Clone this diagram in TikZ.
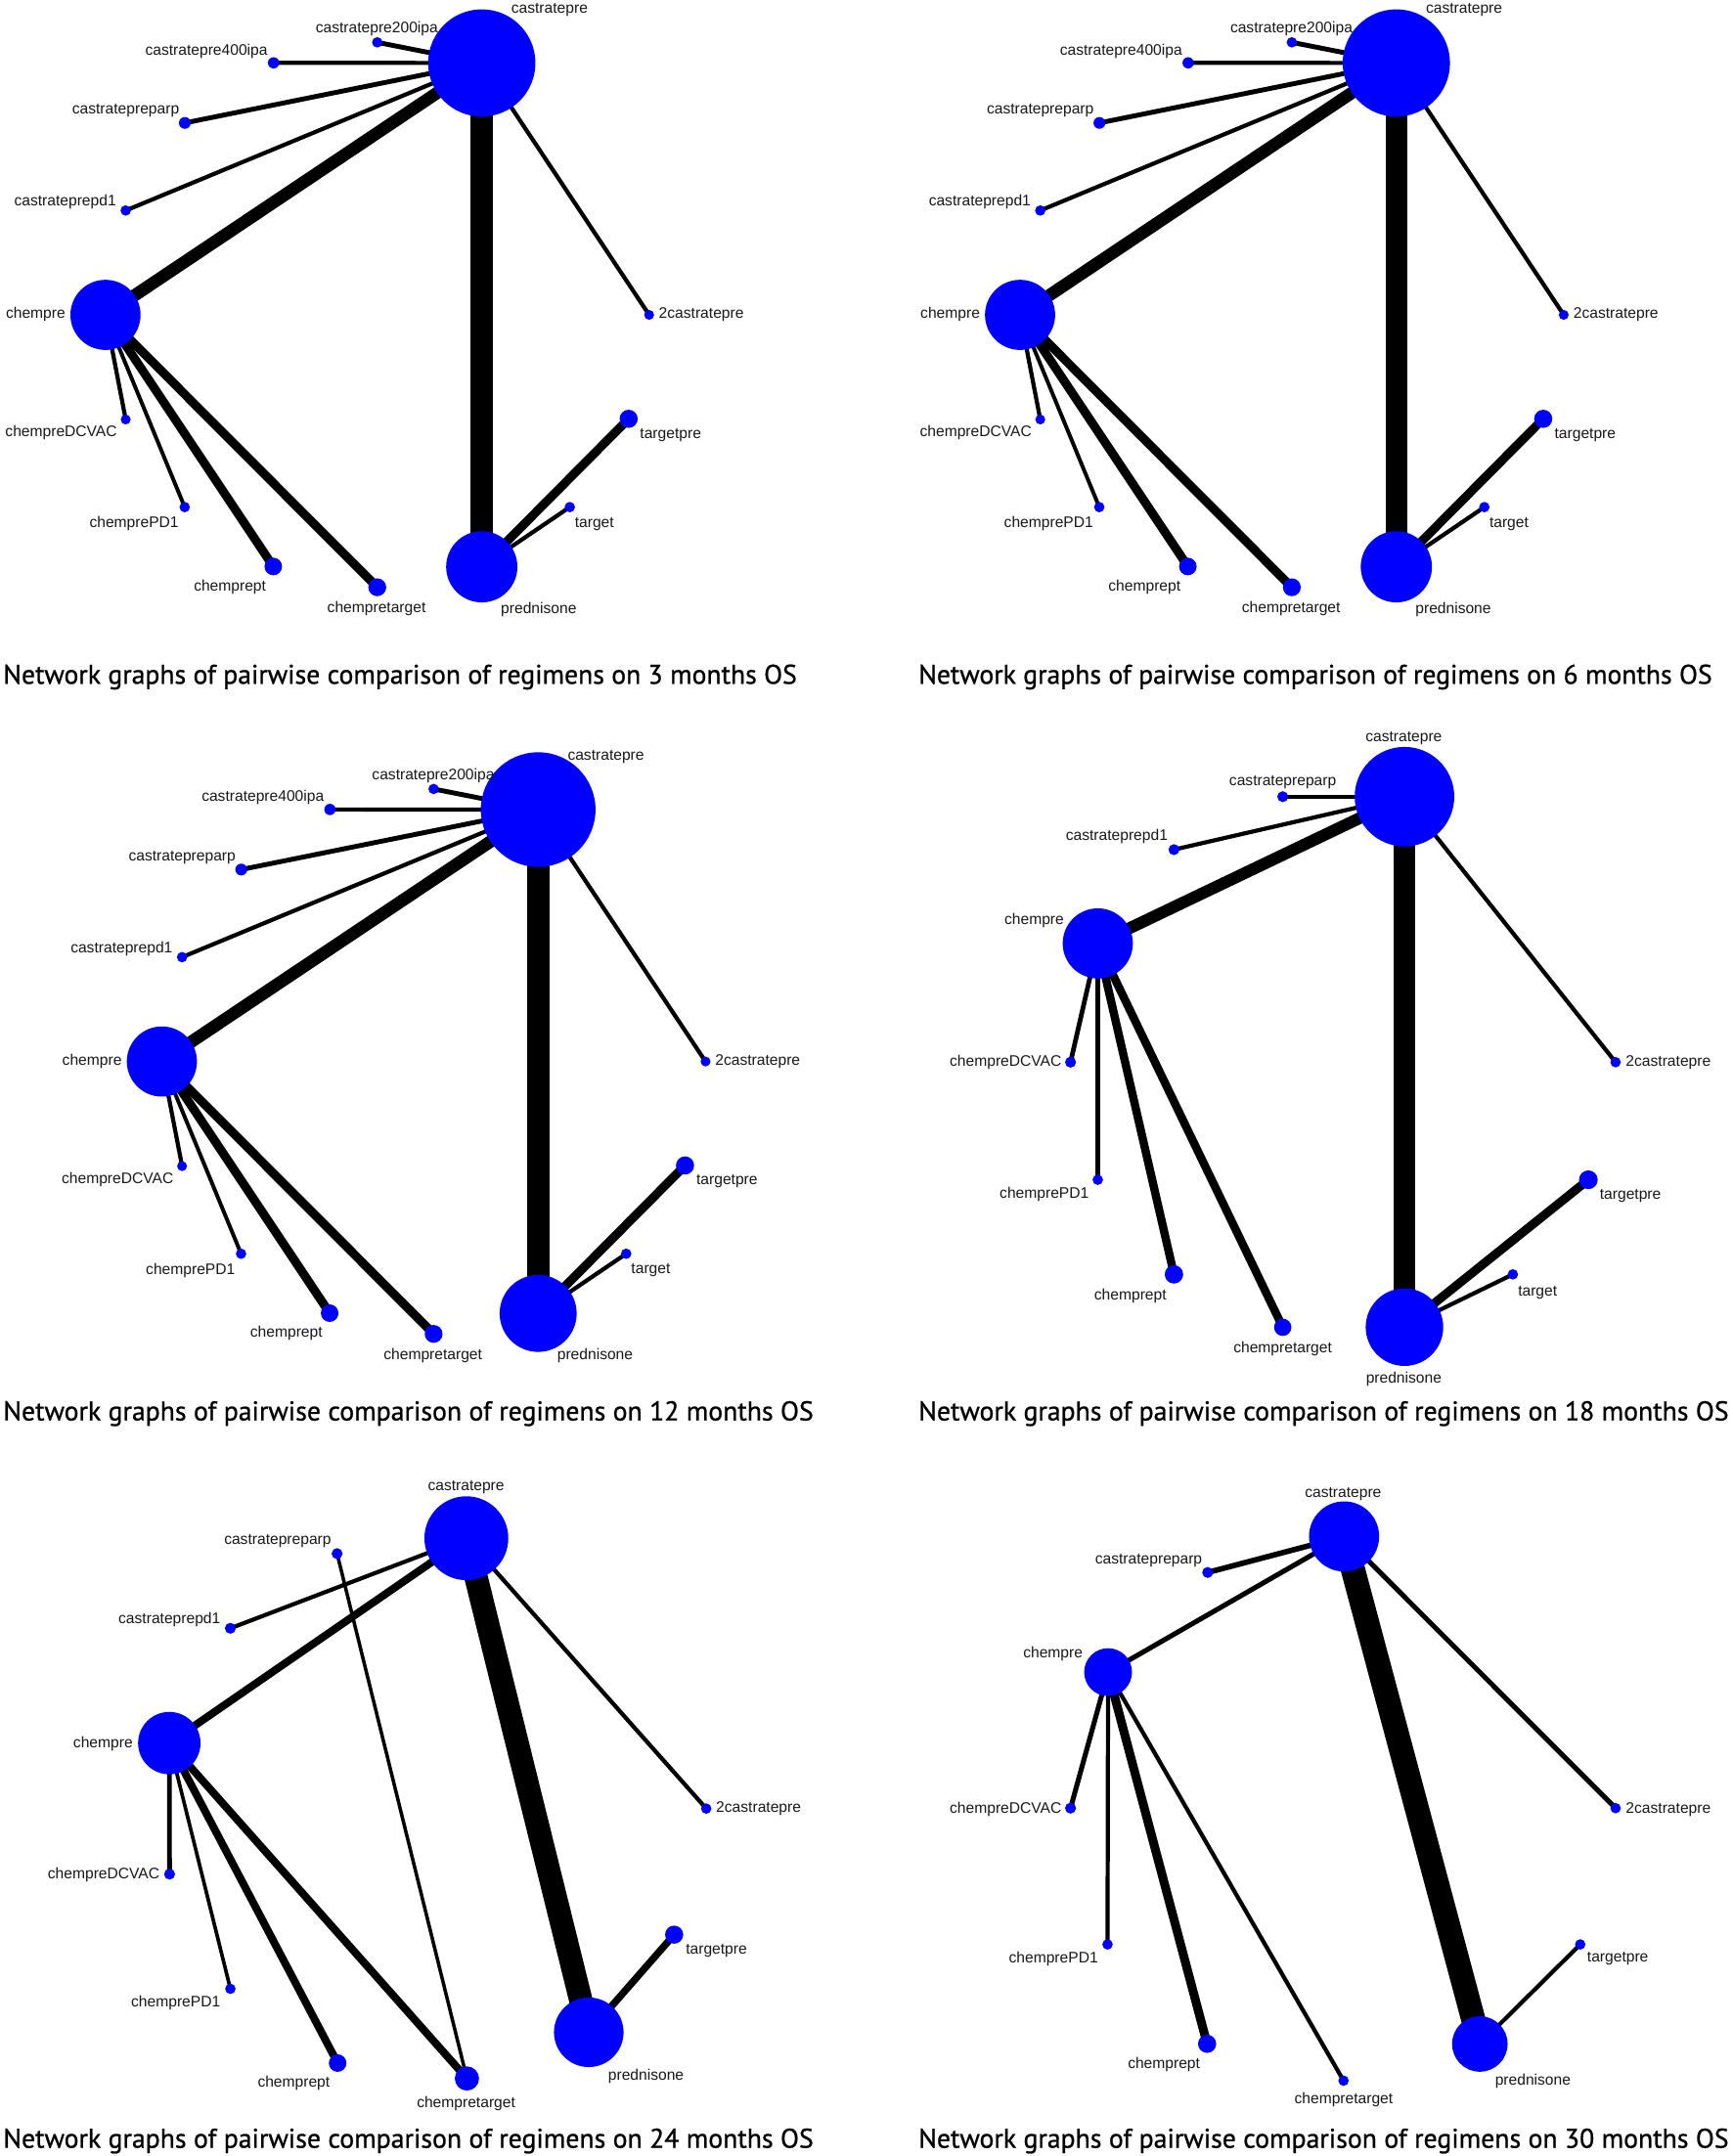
\documentclass[tikz,border=0pt]{standalone}
\usepackage{fontspec}
\usepackage{graphicx}
\newfontfamily\lblfont{Liberation Sans}
\newfontfamily\ttlfont[FakeBold=0.8]{PT Sans}
\definecolor{nodeblue}{RGB}{0,0,255}
\pgfdeclarelayer{bg}
\pgfdeclarelayer{paper}
\pgfsetlayers{paper,bg,main}
\tikzset{
  vtx/.style={circle, fill=nodeblue, draw=none, inner sep=0pt, minimum size=#1},
  lbl/.style={font=\lblfont\fontsize{5.55pt}{6pt}\selectfont, inner sep=0pt, text=black!90},
  ttl/.style={font=\ttlfont, inner sep=0pt, anchor=base west, text=black},
  lnk/.style={line width=#1, draw=black},
}
% full graph used for the 3, 6 and 12 months panels
\newcommand\fullgraph[3]{%
  \node[vtx=#2] (#1cas) at (350.3,45.8) {};
  \node[vtx=3.8pt] (#1c200) at (274.3,30.8) {};
  \node[vtx=4.1pt] (#1c400) at (198.9,45.7) {};
  \node[vtx=4.3pt] (#1carp) at (134.4,89.4) {};
  \node[vtx=3.8pt] (#1cpd1) at (91.4,153.1) {};
  \node[vtx=25.5pt] (#1chem) at (76.7,229) {};
  \node[vtx=3.6pt] (#1dcvac) at (91.4,305.1) {};
  \node[vtx=3.8pt] (#1pd1) at (134.3,368.8) {};
  \node[vtx=6.4pt] (#1cpt) at (198.7,412) {};
  \node[vtx=6.5pt] (#1ctgt) at (274.3,427.1) {};
  \node[vtx=#3] (#1pred) at (350.3,412.2) {};
  \node[vtx=6.6pt] (#1tpre) at (457.1,304.6) {};
  \node[vtx=3.8pt] (#1tgt) at (414.3,368.8) {};
  \node[vtx=3.6pt] (#1c2) at (472,229) {};
  \node[lbl, anchor=west] (#1Lcas) at (371.4,7.1) {castratepre};
  \node[lbl] (#1Lc200) at (274,21.3) {castratepre200ipa};
  \node[lbl] (#1Lc400) at (150.1,37.2) {castratepre400ipa};
  \node[lbl] (#1Lcarp) at (91.4,80.6) {castratepreparp};
  \node[lbl] (#1Lcpd1) at (47.4,147) {castrateprepd1};
  \node[lbl] (#1Lchem) at (25.9,228.7) {chempre};
  \node[lbl] (#1Ldcvac) at (44.5,314.8) {chempreDCVAC};
  \node[lbl] (#1Lpd1) at (97.5,381.1) {chemprePD1};
  \node[lbl] (#1Lcpt) at (167.2,426.7) {chemprept};
  \node[lbl] (#1Lctgt) at (273.8,442.8) {chempretarget};
  \node[lbl] (#1Lpred) at (391.7,443.2) {prednisone};
  \node[lbl, anchor=west] (#1Ltpre) at (465,316.4) {targetpre};
  \node[lbl] (#1Ltgt) at (432.2,381.1) {target};
  \node[lbl, anchor=west] (#1Lc2) at (478.7,229) {2castratepre};
  \begin{pgfonlayer}{bg}
    \draw[lnk=1.75pt] (#1cas.center) -- (#1c200.center);
    \draw[lnk=1.5pt] (#1cas.center) -- (#1c400.center);
    \draw[lnk=1.75pt] (#1cas.center) -- (#1carp.center);
    \draw[lnk=1.5pt] (#1cas.center) -- (#1cpd1.center);
    \draw[lnk=4.5pt] (#1cas.center) -- (#1chem.center);
    \draw[lnk=8pt] (#1cas.center) -- (#1pred.center);
    \draw[lnk=1.5pt] (#1cas.center) -- (#1c2.center);
    \draw[lnk=1.5pt] (#1chem.center) -- (#1dcvac.center);
    \draw[lnk=1.4pt] (#1chem.center) -- (#1pd1.center);
    \draw[lnk=3.2pt] (#1chem.center) -- (#1cpt.center);
    \draw[lnk=3.2pt] (#1chem.center) -- (#1ctgt.center);
    \draw[lnk=3.2pt] (#1pred.center) -- (#1tpre.center);
    \draw[lnk=1.5pt] (#1pred.center) -- (#1tgt.center);
  \end{pgfonlayer}
}
\begin{document}
\begin{tikzpicture}[x=0.5pt, y=-0.5pt]
\begin{pgfonlayer}{paper}
\fill[white] (0,0) rectangle (1260,1568);
\end{pgfonlayer}
\useasboundingbox (0,0) rectangle (1260,1568);

% ---------- 3 months ----------
\begin{scope}
  \fullgraph{a}{39pt}{25.9pt}
\end{scope}
\node[ttl] (t1) at (2,497.3) {\resizebox{288.5pt}{!}{Network graphs of pairwise comparison of regimens on 3 months OS}};

% ---------- 6 months ----------
\begin{scope}[shift={(665,0)}]
  \fullgraph{b}{39pt}{25.9pt}
\end{scope}
\node[ttl] (t2) at (667.5,497.3) {\resizebox{288.5pt}{!}{Network graphs of pairwise comparison of regimens on 6 months OS}};

% ---------- 12 months ----------
\begin{scope}[shift={(41,543)}]
  \fullgraph{c}{41.7pt}{28pt}
\end{scope}
\node[ttl] (t3) at (2,1033) {\resizebox{294.5pt}{!}{Network graphs of pairwise comparison of regimens on 12 months OS}};

% ---------- 18 months ----------
\node[vtx=36.2pt] (dcas) at (1021.2,579.4) {};
\node[vtx=4pt] (dcarp) at (932.7,579.4) {};
\node[vtx=4pt] (dcpd1) at (853.6,617.9) {};
\node[vtx=25.5pt] (dchem) at (798.2,686.1) {};
\node[vtx=4pt] (ddcvac) at (778.4,772.5) {};
\node[vtx=3.8pt] (dpd1) at (798.2,858) {};
\node[vtx=6.7pt] (dcpt) at (853.6,926.8) {};
\node[vtx=6.3pt] (dctgt) at (932.7,965.3) {};
\node[vtx=28.2pt] (dpred) at (1021.2,965.2) {};
\node[vtx=3.8pt] (dc2) at (1174.7,772.5) {};
\node[vtx=6.8pt] (dtpre) at (1154.9,858) {};
\node[vtx=3.8pt] (dtgt) at (1100,926.8) {};
\node[lbl] (dLcas) at (1020.7,537.2) {castratepre};
\node[lbl] (dLcarp) at (932.7,569.1) {castratepreparp};
\node[lbl] (dLcpd1) at (812,608.5) {castrateprepd1};
\node[lbl] (dLchem) at (752,669.2) {chempre};
\node[lbl] (dLdcvac) at (731.2,772.5) {chempreDCVAC};
\node[lbl] (dLpd1) at (759.3,868.3) {chemprePD1};
\node[lbl] (dLcpt) at (821.9,942.5) {chemprept};
\node[lbl] (dLctgt) at (932.7,981) {chempretarget};
\node[lbl] (dLpred) at (1020.7,1002.9) {prednisone};
\node[lbl, anchor=west] (dLc2) at (1181.8,772.5) {2castratepre};
\node[lbl] (dLtpre) at (1185.5,869.5) {targetpre};
\node[lbl] (dLtgt) at (1118,940) {target};
\begin{pgfonlayer}{bg}
  \draw[lnk=1.5pt] (dcas.center) -- (dcarp.center);
  \draw[lnk=1.5pt] (dcas.center) -- (dcpd1.center);
  \draw[lnk=4.3pt] (dcas.center) -- (dchem.center);
  \draw[lnk=8pt] (dcas.center) -- (dpred.center);
  \draw[lnk=1.5pt] (dcas.center) -- (dc2.center);
  \draw[lnk=1.7pt] (dchem.center) -- (ddcvac.center);
  \draw[lnk=1.5pt] (dchem.center) -- (dpd1.center);
  \draw[lnk=3pt] (dchem.center) -- (dcpt.center);
  \draw[lnk=3pt] (dchem.center) -- (dctgt.center);
  \draw[lnk=3.2pt] (dpred.center) -- (dtpre.center);
  \draw[lnk=1.5pt] (dpred.center) -- (dtgt.center);
\end{pgfonlayer}
\node[ttl] (t4) at (667.5,1033) {\resizebox{294.5pt}{!}{Network graphs of pairwise comparison of regimens on 18 months OS}};

% ---------- 24 months ----------
\node[vtx=30.5pt] (ecas) at (339.1,1118.7) {};
\node[vtx=4pt] (ecarp) at (245.1,1129.9) {};
\node[vtx=4pt] (ecpd1) at (167.5,1184.2) {};
\node[vtx=22.7pt] (echem) at (123.1,1267.7) {};
\node[vtx=4pt] (edcvac) at (123.3,1363) {};
\node[vtx=3.8pt] (epd1) at (167.5,1446.4) {};
\node[vtx=6.4pt] (ecpt) at (245.5,1500.4) {};
\node[vtx=8.8pt] (ectgt) at (339.5,1511.6) {};
\node[vtx=25.3pt] (epred) at (428.1,1478) {};
\node[vtx=3.8pt] (ec2) at (513.5,1315.3) {};
\node[vtx=6.6pt] (etpre) at (490.2,1407) {};
\node[lbl] (eLcas) at (338.9,1081.6) {castratepre};
\node[lbl] (eLcarp) at (201.9,1121) {castratepreparp};
\node[lbl] (eLcpd1) at (123.2,1177.9) {castrateprepd1};
\node[lbl] (eLchem) at (74.9,1268) {chempre};
\node[lbl, anchor=west] (eLc2) at (520.3,1315.3) {2castratepre};
\node[lbl] (eLdcvac) at (75.4,1363.3) {chempreDCVAC};
\node[lbl] (eLpd1) at (127.8,1456.6) {chemprePD1};
\node[lbl] (eLcpt) at (213.6,1515.1) {chemprept};
\node[lbl] (eLctgt) at (338.9,1530.2) {chempretarget};
\node[lbl] (eLpred) at (469.7,1509.7) {prednisone};
\node[lbl] (eLtpre) at (520.9,1418.9) {targetpre};
\begin{pgfonlayer}{bg}
  \draw[lnk=1.5pt] (ecas.center) -- (ecpd1.center);
  \draw[lnk=2.8pt] (ecas.center) -- (echem.center);
  \draw[lnk=8.5pt] (ecas.center) -- (epred.center);
  \draw[lnk=1.5pt] (ecas.center) -- (ec2.center);
  \draw[lnk=1.25pt] (ecarp.center) -- (ectgt.center);
  \draw[lnk=1.7pt] (echem.center) -- (edcvac.center);
  \draw[lnk=1.3pt] (echem.center) -- (epd1.center);
  \draw[lnk=2.8pt] (echem.center) -- (ecpt.center);
  \draw[lnk=2.8pt] (echem.center) -- (ectgt.center);
  \draw[lnk=2.6pt] (epred.center) -- (etpre.center);
\end{pgfonlayer}
\node[ttl] (t5) at (2,1562) {\resizebox{294.5pt}{!}{Network graphs of pairwise comparison of regimens on 24 months OS}};

% ---------- 30 months ----------
\node[vtx=25.5pt] (fcas) at (977.3,1117.4) {};
\node[vtx=4pt] (fcarp) at (878.1,1143.6) {};
\node[vtx=17.4pt] (fchem) at (805.7,1216.1) {};
\node[vtx=4pt] (fdcvac) at (778.4,1315) {};
\node[vtx=3.8pt] (fpd1) at (805.3,1414.1) {};
\node[vtx=6.6pt] (fcpt) at (877.7,1486.4) {};
\node[vtx=3.8pt] (fctgt) at (976.9,1513.2) {};
\node[vtx=20.2pt] (fpred) at (1076,1486.5) {};
\node[vtx=3.8pt] (fc2) at (1174.7,1315) {};
\node[vtx=3.8pt] (ftpre) at (1149,1414.1) {};
\node[lbl] (fLcas) at (976.6,1086.4) {castratepre};
\node[lbl] (fLcarp) at (835.2,1134.7) {castratepreparp};
\node[lbl] (fLchem) at (765.6,1203.1) {chempre};
\node[lbl, anchor=west] (fLc2) at (1181.8,1316) {2castratepre};
\node[lbl] (fLdcvac) at (731.2,1316) {chempreDCVAC};
\node[lbl] (fLpd1) at (766,1424.7) {chemprePD1};
\node[lbl] (fLcpt) at (846.3,1501.4) {chemprept};
\node[lbl] (fLctgt) at (977,1527) {chempretarget};
\node[lbl] (fLpred) at (1114.6,1513.2) {prednisone};
\node[lbl] (fLtpre) at (1176.3,1424.7) {targetpre};
\begin{pgfonlayer}{bg}
  \draw[lnk=2pt] (fcas.center) -- (fcarp.center);
  \draw[lnk=1.8pt] (fcas.center) -- (fchem.center);
  \draw[lnk=8.8pt] (fcas.center) -- (fpred.center);
  \draw[lnk=1.8pt] (fcas.center) -- (fc2.center);
  \draw[lnk=1.8pt] (fchem.center) -- (fdcvac.center);
  \draw[lnk=1.5pt] (fchem.center) -- (fpd1.center);
  \draw[lnk=3.2pt] (fchem.center) -- (fcpt.center);
  \draw[lnk=1.5pt] (fchem.center) -- (fctgt.center);
  \draw[lnk=1.5pt] (fpred.center) -- (ftpre.center);
\end{pgfonlayer}
\node[ttl] (t6) at (667.5,1562) {\resizebox{294.5pt}{!}{Network graphs of pairwise comparison of regimens on 30 months OS}};
\end{tikzpicture}
\end{document}
